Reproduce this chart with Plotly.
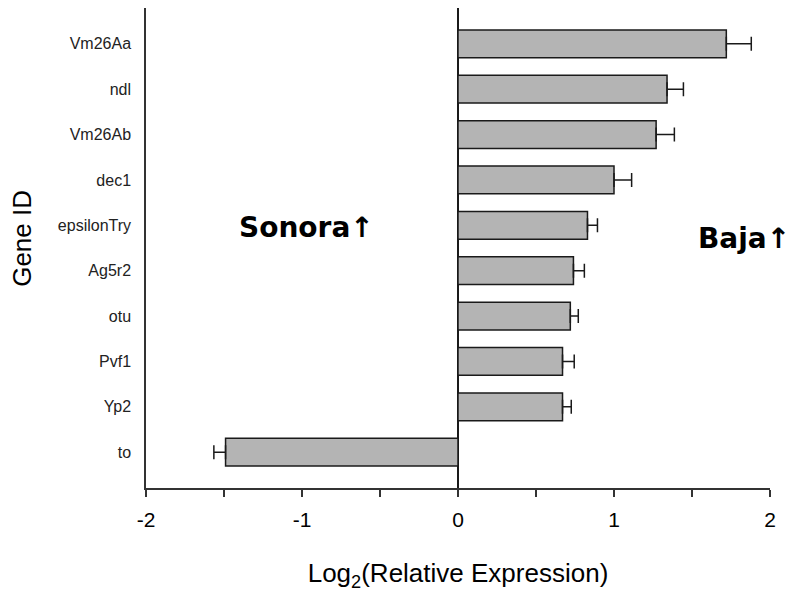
import plotly.graph_objects as go

# genes from top to bottom
genes = ["Vm26Aa", "ndl", "Vm26Ab", "dec1", "epsilonTry", "Ag5r2", "otu", "Pvf1", "Yp2", "to"]
log2_expr = [1.72, 1.34, 1.27, 1.00, 0.83, 0.74, 0.72, 0.67, 0.67, -1.49]
err = [0.16, 0.105, 0.117, 0.113, 0.064, 0.07, 0.051, 0.075, 0.056, 0.075]
x_ticks = [-2, -1, 0, 1, 2]
x_tick_labels = ["-2", "-1", "0", "1", "2"]

# error bar only drawn on the outer side of each bar
err_plus = [e if v > 0 else 0 for v, e in zip(log2_expr, err)]
err_minus = [e if v < 0 else 0 for v, e in zip(log2_expr, err)]

fig = go.Figure(go.Bar(
    x=log2_expr, y=genes, orientation="h", width=0.61,
    marker=dict(color="#b4b4b4", line=dict(color="#1a1a1a", width=1.5)),
    error_x=dict(type="data", symmetric=False, array=err_plus, arrayminus=err_minus,
                 color="#1a1a1a", thickness=1.5, width=7),
))

fig.add_annotation(x=-0.97, y=4.05, text="<b>Sonora↑</b>", showarrow=False,
                   font=dict(family="DejaVu Sans", size=28, color="black"))
fig.add_annotation(x=1.035, xref="paper", xanchor="right", y=4.28, text="<b>Baja↑</b>", showarrow=False,
                   font=dict(family="DejaVu Sans", size=28, color="black"))
# y title as annotation so it can sit further left than the margin allows
fig.add_annotation(x=-0.198, xref="paper", xanchor="center", y=0.52, yref="paper", yanchor="middle",
                   text="Gene ID", textangle=-90, showarrow=False, font=dict(size=26, color="black"))

fig.update_xaxes(range=[-2, 2], tickvals=x_ticks, ticktext=x_tick_labels,
                 showline=True, linecolor="#333", linewidth=1.5,
                 ticks="outside", ticklen=7, tickcolor="#333", tickwidth=1.5,
                 minor=dict(dtick=0.5, ticks="outside", ticklen=7, tickcolor="#333", tickwidth=1.5),
                 showgrid=False, zeroline=True, zerolinecolor="#1a1a1a", zerolinewidth=1.5,
                 tickfont=dict(size=21, color="black"), ticklabelstandoff=5, automargin=False,
                 title=dict(text="Log<sub>2</sub>(Relative Expression)", font=dict(size=26, color="black"),
                            standoff=34))
fig.update_yaxes(autorange=False, range=[9.79, -0.79], showline=True, linecolor="#333", linewidth=1.5,
                 ticks="", showgrid=False, tickfont=dict(size=16, color="#222"),
                 ticklabelstandoff=10, automargin=False)

fig.update_layout(width=800, height=594, margin=dict(l=138, r=38, t=0, b=114),
                  plot_bgcolor="white", paper_bgcolor="white", showlegend=False,
                  font=dict(family="Liberation Sans, Arial, sans-serif"))

fig.write_html("out.html")
